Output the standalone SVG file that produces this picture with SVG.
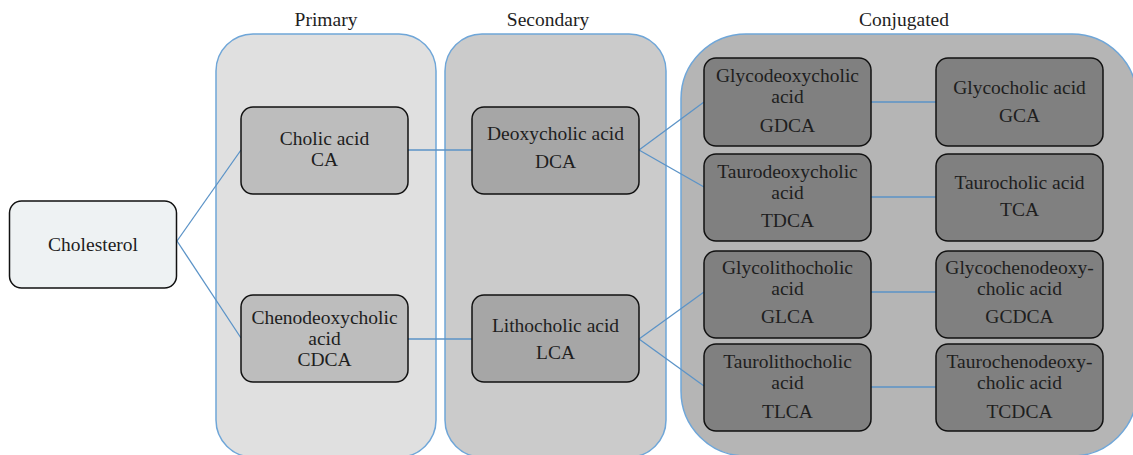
<svg xmlns="http://www.w3.org/2000/svg" width="1133" height="455" viewBox="0 0 1133 455" font-family="'Liberation Serif', 'Times New Roman', serif">
<style>
  text { font-family: 'Liberation Serif', 'Times New Roman', serif; font-size: 19.5px; fill: #1e1e1e; text-anchor: middle; }
  .group { stroke: #6fa6d8; stroke-width: 1.5; }
  .node { stroke: #111; stroke-width: 1.5; }
  .conn { stroke: #5b93c7; stroke-width: 1.3; fill: none; }
</style>
<rect width="1133" height="455" fill="#ffffff"/>
<g id="group-primary">
  <rect class="group" x="216" y="34" width="220" height="423" rx="37" fill="#e0e0e0"/>
  <text x="326" y="26">Primary</text>
</g>
<g id="group-secondary">
  <rect class="group" x="445" y="34" width="221" height="423" rx="37" fill="#cbcbcb"/>
  <text x="548" y="26">Secondary</text>
</g>
<g id="group-conjugated">
  <rect class="group" x="681" y="34" width="456" height="422" rx="65" fill="#b5b5b5"/>
  <text x="904" y="26">Conjugated</text>
</g>
<g id="connectors">
  <line class="conn" x1="177" y1="241" x2="241" y2="150"/>
  <line class="conn" x1="177" y1="241" x2="241" y2="338"/>
  <line class="conn" x1="408" y1="150" x2="472" y2="150"/>
  <line class="conn" x1="408" y1="339" x2="472" y2="339"/>
  <line class="conn" x1="639" y1="150" x2="704" y2="102"/>
  <line class="conn" x1="639" y1="150" x2="704" y2="187"/>
  <line class="conn" x1="639" y1="339" x2="704" y2="292"/>
  <line class="conn" x1="639" y1="339" x2="704" y2="386"/>
  <line class="conn" x1="871" y1="102" x2="936" y2="102"/>
  <line class="conn" x1="871" y1="197" x2="936" y2="197"/>
  <line class="conn" x1="871" y1="292" x2="936" y2="292"/>
  <line class="conn" x1="871" y1="387" x2="936" y2="387"/>
</g>
<g id="node-cholesterol">
  <rect class="node" x="9.5" y="201" width="167" height="87" rx="12" fill="#eef2f3"/>
  <text x="93" y="251">Cholesterol</text>
</g>
<g id="node-ca">
  <rect class="node" x="241" y="107" width="167" height="87" rx="12" fill="#bdbdbd"/>
  <text x="324.5" y="145">Cholic acid</text>
  <text x="324.5" y="166">CA</text>
</g>
<g id="node-cdca">
  <rect class="node" x="241" y="295" width="167" height="87" rx="12" fill="#bdbdbd"/>
  <text x="324.5" y="324">Chenodeoxycholic</text>
  <text x="324.5" y="345">acid</text>
  <text x="324.5" y="366">CDCA</text>
</g>
<g id="node-dca">
  <rect class="node" x="472" y="107" width="167" height="87" rx="12" fill="#a6a6a6"/>
  <text x="555.5" y="140">Deoxycholic acid</text>
  <text x="555.5" y="168">DCA</text>
</g>
<g id="node-lca">
  <rect class="node" x="472" y="295" width="167" height="87" rx="12" fill="#a6a6a6"/>
  <text x="555.5" y="332">Lithocholic acid</text>
  <text x="555.5" y="359">LCA</text>
</g>
<g id="node-gdca">
  <rect class="node" x="704" y="58" width="167" height="88" rx="12" fill="#808080"/>
  <text x="787.5" y="82">Glycodeoxycholic</text>
  <text x="787.5" y="103">acid</text>
  <text x="787.5" y="132">GDCA</text>
</g>
<g id="node-gca">
  <rect class="node" x="936" y="58" width="167" height="88" rx="12" fill="#808080"/>
  <text x="1019.5" y="94">Glycocholic acid</text>
  <text x="1019.5" y="122">GCA</text>
</g>
<g id="node-tdca">
  <rect class="node" x="704" y="154" width="167" height="87" rx="12" fill="#808080"/>
  <text x="787.5" y="178">Taurodeoxycholic</text>
  <text x="787.5" y="199">acid</text>
  <text x="787.5" y="227">TDCA</text>
</g>
<g id="node-tca">
  <rect class="node" x="936" y="154" width="167" height="87" rx="12" fill="#808080"/>
  <text x="1019.5" y="189">Taurocholic acid</text>
  <text x="1019.5" y="216">TCA</text>
</g>
<g id="node-glca">
  <rect class="node" x="704" y="251" width="167" height="87" rx="12" fill="#808080"/>
  <text x="787.5" y="274">Glycolithocholic</text>
  <text x="787.5" y="295">acid</text>
  <text x="787.5" y="323">GLCA</text>
</g>
<g id="node-gcdca">
  <rect class="node" x="936" y="251" width="167" height="87" rx="12" fill="#808080"/>
  <text x="1019.5" y="274">Glycochenodeoxy-</text>
  <text x="1019.5" y="295">cholic acid</text>
  <text x="1019.5" y="323">GCDCA</text>
</g>
<g id="node-tlca">
  <rect class="node" x="704" y="344" width="167" height="87" rx="12" fill="#808080"/>
  <text x="787.5" y="368">Taurolithocholic</text>
  <text x="787.5" y="389">acid</text>
  <text x="787.5" y="418">TLCA</text>
</g>
<g id="node-tcdca">
  <rect class="node" x="936" y="344" width="167" height="87" rx="12" fill="#808080"/>
  <text x="1019.5" y="368">Taurochenodeoxy-</text>
  <text x="1019.5" y="389">cholic acid</text>
  <text x="1019.5" y="418">TCDCA</text>
</g>
</svg>
